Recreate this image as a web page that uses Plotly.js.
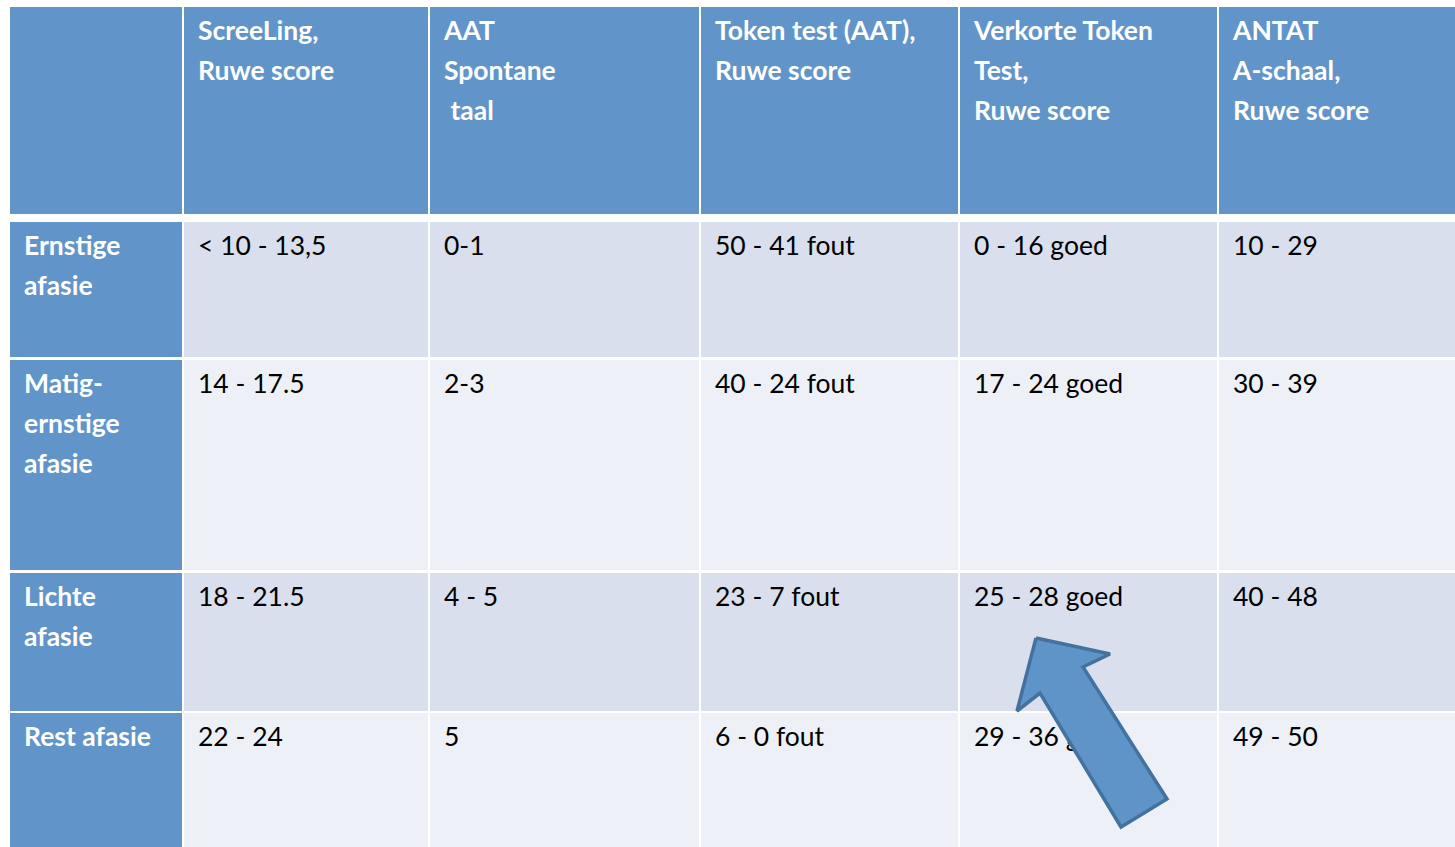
<!DOCTYPE html>
<html>
<head>
<meta charset="utf-8">
<script src="https://cdn.plot.ly/plotly-3.0.1.min.js"></script>
<style>html,body{margin:0;padding:0;background:#fff;}#chart{width:1455px;height:847px;}</style>
</head>
<body>
<div id="chart"></div>
<script>
// ---- data ----
const headers = ["", "ScreeLing,\nRuwe score", "AAT\nSpontane\n\u00a0taal", "Token test (AAT),\nRuwe score", "Verkorte Token\nTest,\nRuwe score", "ANTAT\nA-schaal,\nRuwe score"];
const rowLabels = ["Ernstige\nafasie", "Matig-\nernstige\nafasie", "Lichte\nafasie", "Rest afasie"];
const screeling = ["< 10 - 13,5", "14 - 17.5", "18 - 21.5", "22 - 24"];
const aatSpontaan = ["0-1", "2-3", "4 - 5", "5"];
const tokenTest = ["50 - 41 fout", "40 - 24 fout", "23 - 7 fout", "6 - 0 fout"];
const verkorteToken = ["0 - 16 goed", "17 - 24 goed", "25 - 28 goed", "29 - 36 goed"];
const antat = ["10 - 29", "30 - 39", "40 - 48", "49 - 50"];

// ---- layout geometry ----
const W = 1455, H = 847;
const colEdges = [[10,182],[184,428],[430,699],[701,958],[960,1217],[1219,1470]];
const rowEdges = [[7,214],[222,357],[360,570],[573,711],[713,870]];
const HEAD = '#6195c9', BAND1 = '#d9dfec', BAND2 = '#edf0f6';
const PADX = 14, FIRSTY = 26.5, LINEH = 40;
const FONT = 'Lato, "Open Sans", sans-serif', FS = 26.5;

const bodyCols = [screeling, aatSpontaan, tokenTest, verkorteToken, antat];

const shapes = [];
for (let r = 0; r < rowEdges.length; r++) {
  for (let c = 0; c < colEdges.length; c++) {
    let fill;
    if (r === 0 || c === 0) fill = HEAD;
    else fill = (r % 2 === 1) ? BAND1 : BAND2;
    shapes.push({type:'rect', xref:'x', yref:'y', layer:'below',
      x0: colEdges[c][0], x1: colEdges[c][1], y0: rowEdges[r][0], y1: rowEdges[r][1],
      fillcolor: fill, line:{width:0}});
  }
}

function esc(s){ return s.replace(/&/g,'&amp;').replace(/</g,'&lt;').replace(/>/g,'&gt;'); }
function linesTrace(cells, color, weight) {
  const xs = [], ys = [], ts = [];
  cells.forEach(cell => {
    cell.text.split('\n').forEach((ln, i) => {
      xs.push(colEdges[cell.c][0] + PADX);
      ys.push(rowEdges[cell.r][0] + FIRSTY + LINEH * i);
      ts.push(esc(ln));
    });
  });
  return {type:'scatter', mode:'text', x: xs, y: ys, text: ts,
    textposition:'middle right', hoverinfo:'skip', showlegend:false, cliponaxis:false,
    textfont:{family: FONT, size: FS, color: color, weight: weight}};
}

const headCells = headers.map((t, c) => ({r:0, c:c, text:t})).filter(d => d.text);
const labelCells = rowLabels.map((t, i) => ({r:i+1, c:0, text:t}));
const bodyCells = [];
bodyCols.forEach((col, ci) => col.forEach((t, ri) => bodyCells.push({r:ri+1, c:ci+1, text:t})));

// block arrow (decoration)
const arrowPts = [[1036,638],[1110,654],[1083,667],[1167,799],[1121,827],[1040,693],[1017,711]];
const arrow = {type:'scatter', mode:'lines', fill:'toself',
  x: arrowPts.map(p=>p[0]).concat([arrowPts[0][0]]),
  y: arrowPts.map(p=>p[1]).concat([arrowPts[0][1]]),
  fillcolor:'#5f94c8', line:{color:'#43729e', width:3.5}, hoverinfo:'skip', showlegend:false};

const data = [
  linesTrace(headCells, '#ffffff', 700),
  linesTrace(labelCells, '#ffffff', 700),
  linesTrace(bodyCells, '#000000', 400),
  arrow
];

const layout = {
  width: W, height: H, margin:{l:0,r:0,t:0,b:0},
  paper_bgcolor:'#ffffff', plot_bgcolor:'#ffffff',
  xaxis:{range:[0,W], visible:false, fixedrange:true},
  yaxis:{range:[H,0], visible:false, fixedrange:true},
  shapes: shapes, showlegend:false
};
Plotly.newPlot('chart', data, layout, {staticPlot:true, displayModeBar:false});
</script>
</body>
</html>
